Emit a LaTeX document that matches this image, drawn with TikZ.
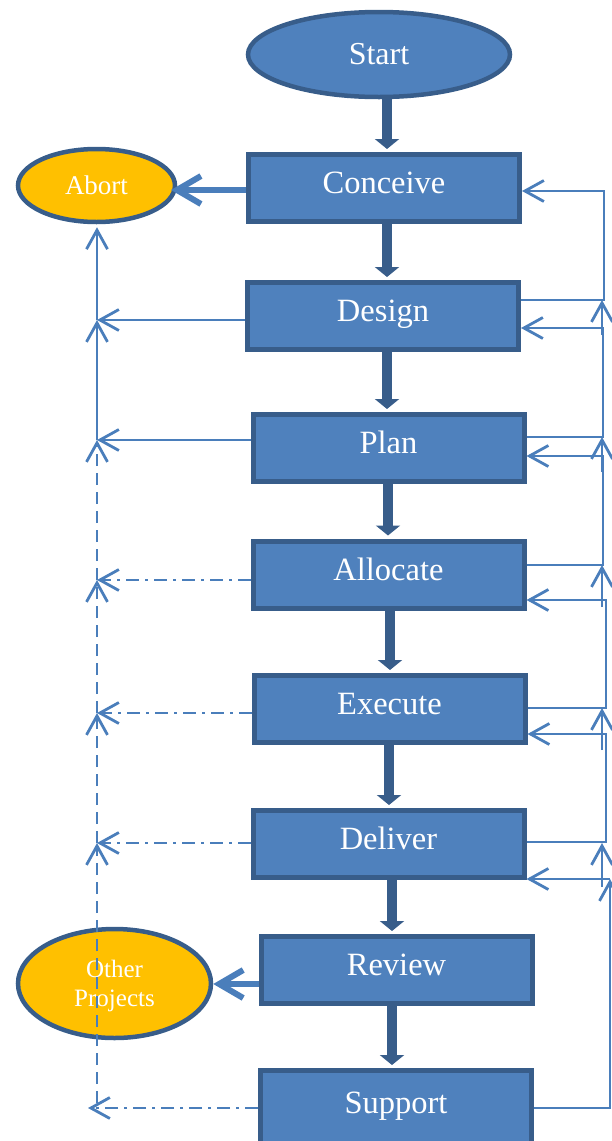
\documentclass[tikz,border=0pt]{standalone}
\usepackage{fontspec}
\setmainfont{Liberation Serif}
\usetikzlibrary{arrows.meta,shapes.geometric}
\definecolor{boxfill}{HTML}{4F81BD}
\definecolor{boxline}{HTML}{385D8A}
\definecolor{wireblue}{HTML}{4A7EBB}
\definecolor{gold}{HTML}{FFC000}
\begin{document}
\begin{tikzpicture}[x=1pt,y=-1pt,
  phase/.style={rectangle, draw=boxline, fill=boxfill, line width=5pt,
    minimum width=271pt, minimum height=67pt, inner sep=0pt, text=white,
    text height=21.5pt, text depth=10pt,
    font=\fontsize{32.5}{38}\selectfont},
  startnode/.style={ellipse, draw=boxline, fill=boxfill, line width=4.5pt,
    minimum width=262pt, minimum height=85pt, inner sep=0pt, text=white,
    font=\fontsize{32}{38}\selectfont},
  term/.style={ellipse, draw=boxline, fill=gold, line width=4.5pt,
    inner sep=0pt, text=white, align=center},
  flow/.style={draw=boxline, line width=10pt,
    -{Triangle[length=10pt,width=24pt]}, shorten >=3pt},
  exitarrow/.style={draw=wireblue, line width=6pt,
    -{Straight Barb[length=24pt,width=28pt]}},
  link/.style={draw=wireblue, line width=2.8pt},
  barb/.style={-{Straight Barb[length=19pt,width=21pt]}},
  dashv/.style={dash pattern=on 12pt off 7pt},
  dashdot/.style={dash pattern=on 13pt off 6pt on 3pt off 6pt},
]
\useasboundingbox (0,0) rectangle (612,1141);

% terminals
\node[startnode] (start) at (379,54.5) {Start};
\node[term, minimum width=157pt, minimum height=73pt,
  font=\fontsize{27}{30}\selectfont] (abort) at (96.5,185.5) {Abort};
\node[term, minimum width=193pt, minimum height=109pt,
  font=\fontsize{25}{29}\selectfont] (other) at (114.5,983.5) {\rule{0pt}{23pt}Other\\Projects};

% project phases
\node[phase] (conceive) at (384,188) {Conceive};
\node[phase] (design)   at (383,316) {Design};
\node[phase] (plan)     at (388.5,448) {Plan};
\node[phase] (allocate) at (388.5,574.5) {Allocate};
\node[phase] (execute)  at (389.5,709) {Execute};
\node[phase] (deliver)  at (388.5,844) {Deliver};
\node[phase] (review)   at (396.5,970) {Review};
\node[phase, minimum height=75pt] (support) at (396,1108) {Support};

% main sequence
\draw[flow] (start.south -| 387,0) -- (conceive.north -| 387,0);
\draw[flow] (conceive.south -| 387,0) -- (design.north -| 387,0);
\draw[flow] (design.south -| 387,0) -- (plan.north -| 387,0);
\draw[flow] (plan.south -| 388,0) -- (allocate.north -| 388,0);
\draw[flow] (allocate.south -| 390,0) -- (execute.north -| 390,0);
\draw[flow] (execute.south -| 389,0) -- (deliver.north -| 389,0);
\draw[flow] (deliver.south -| 392,0) -- (review.north -| 392,0);
\draw[flow] (review.south -| 392,0) -- (support.north -| 392,0);

% exits to the left
\draw[exitarrow] (conceive.west |- 0,190) -- (171,190);
\draw[exitarrow] (review.west |- 0,984) -- (other.east |- 0,984);

% left rail: abort path
\coordinate (l2) at (97,320);
\coordinate (l3) at (97,440);
\coordinate (l4) at (97,580);
\coordinate (l5) at (97,713);
\coordinate (l6) at (97,843);
\coordinate (l8) at (97,1103);
\coordinate (l8tip) at (88,1108);
\draw[link,barb] (design.west |- l2) -- (l2);
\draw[link,barb] (plan.west |- l3) -- (l3);
\draw[link,barb] (l2) -- ([yshift=-3pt]abort.south -| l2);
\draw[link,barb] (l3) -- (l2);
\draw[link,barb,dashv] (l4) -- (l3);
\draw[link,barb,dashv] (l5) -- (l4);
\draw[link,barb,dashv] (l6) -- (l5);
\draw[link,barb,dashv] (l8) -- (l6);
\draw[link,barb,dashdot] (allocate.west |- l4) -- (l4);
\draw[link,barb,dashdot] (execute.west |- l5) -- (l5);
\draw[link,barb,dashdot] (deliver.west |- l6) -- (l6);
\draw[link,barb,dashdot] (support.west |- l8tip) -- (l8tip);

% right rail: step back to the previous phase
\draw[link,barb] (design.east |- 0,300) -- (604,300) -- (604,191) -- (conceive.east |- 0,191);
\draw[link,barb] (plan.east |- 0,437) -- (603,437) -- (603,328) -- (design.east |- 0,328);
\draw[link,barb] (allocate.east |- 0,565) -- (603,565) -- (603,456) -- (plan.east |- 0,456);
\draw[link,barb] (execute.east |- 0,708) -- (606,708) -- (606,600) -- (allocate.east |- 0,600);
\draw[link,barb] (deliver.east |- 0,842) -- (606,842) -- (606,734) -- (execute.east |- 0,734);
\coordinate (r8) at (610,879);
\draw[link,barb] (support.east |- 0,1108) -- (610,1108) -- (r8);
\draw[link,barb] (r8) -- (deliver.east |- r8);

% upward marks on the right rail
\draw[link,barb] (602,335) -- (602,300);
\draw[link,barb] (602,472) -- (602,437);
\draw[link,barb] (602,607) -- (602,565);
\draw[link,barb] (602,750) -- (602,708);
\draw[link,barb] (602,887) -- (602,843);
\end{tikzpicture}
\end{document}
